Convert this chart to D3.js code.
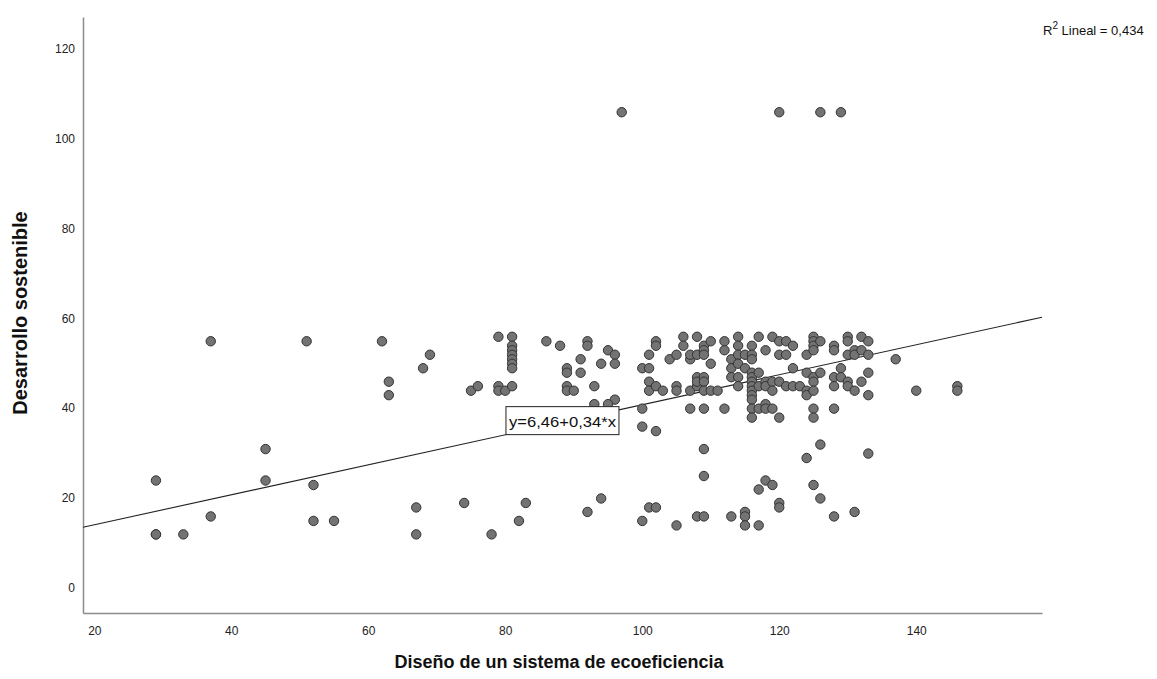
<!DOCTYPE html>
<html>
<head>
<meta charset="utf-8">
<style>
body { margin: 0; background: #fff; }
text { font-family: "Liberation Sans", Arial, sans-serif; }
.axis .domain { stroke: #8c8c8c; stroke-width: 1.5; }
.axis text { font-size: 12px; fill: #222; }
</style>
</head>
<body>
<svg id="chart" width="1157" height="679"></svg>
<script src="https://d3js.org/d3.v7.min.js"></script>
<script>

// ecoefficiency design score (x) vs sustainable development (y)
var xVals = [29,29,33,29,37,37,45,45,51,52,52,55,62,63,63,67,67,68,69,74,75,76,79,81,81,81,81,81,81,81,79,79,80,81,78,82,83,
  86,88,89,89,91,91,89,89,90,92,92,93,94,95,96,96,96,93,95,92,94,97,
  100,100,100,100,101,101,101,101,101,102,102,102,102,102,103,104,105,105,105,105,106,106,107,107,107,107,
  108,108,108,108,108,108,109,109,109,109,109,109,109,109,109,109,110,110,110,111,112,112,112,113,113,113,113,
  114,114,114,114,114,114,115,115,115,115,115,116,116,116,116,116,116,116,116,116,116,116,116,
  117,117,117,117,117,117,118,118,118,118,118,118,119,119,119,119,119,120,120,120,120,120,120,120,
  121,121,121,122,122,122,123,124,124,124,124,124,125,125,125,125,125,125,125,125,125,125,
  126,126,126,126,126,128,128,128,128,128,128,129,129,129,130,130,130,130,130,131,131,131,131,
  132,132,132,133,133,133,133,133,137,140,146,146];
var yVals = [11,11,11,23,15,54,30,23,54,22,14,14,54,45,42,17,11,48,51,18,43,44,55,55,53,52,51,50,49,48,44,43,43,44,11,14,18,
  54,53,48,47,50,47,44,43,43,54,53,44,49,52,51,49,41,40,40,16,19,105,
  48,39,35,14,51,48,45,43,17,54,53,44,34,17,43,50,51,44,43,13,55,53,50,51,43,39,
  55,51,44,46,45,15,53,52,51,46,45,43,39,30,24,15,54,49,43,43,54,52,39,50,48,46,15,
  55,53,51,49,46,44,51,48,16,15,13,53,51,50,47,46,45,44,43,42,41,39,37,
  55,47,44,39,13,21,52,45,44,40,39,23,55,45,43,39,22,54,51,45,37,18,17,105,
  54,51,44,53,48,44,44,51,47,43,42,28,55,54,53,52,46,45,43,39,37,22,
  54,47,31,19,105,53,52,46,44,39,15,48,46,105,55,54,51,45,44,52,51,43,16,
  55,52,45,54,51,47,42,29,50,43,44,43];

var xTicks = [20, 40, 60, 80, 100, 120, 140];
var yTicks = [0, 20, 40, 60, 80, 100, 120];
var fitA = 6.46, fitB = 0.334;
var fitLabel = "y=6,46+0,34*x";
var r2Label = "Lineal = 0,434";

var data = xVals.map(function(d, i) { return {x: d, y: yVals[i]}; });

var svg = d3.select("#chart");

var x = d3.scaleLinear().domain([18.35, 158.36]).range([83, 1042]);
var y = d3.scaleLinear().domain([-6.5, 126.2]).range([613, 17]);

svg.append("g")
    .attr("class", "axis")
    .attr("transform", "translate(0,613)")
    .call(d3.axisBottom(x).tickValues(xTicks).tickSize(0).tickPadding(13))
    .selectAll("text").attr("dy", "0.71em");

svg.append("g")
    .attr("class", "axis")
    .attr("transform", "translate(83,0)")
    .call(d3.axisLeft(y).tickValues(yTicks).tickSize(0).tickPadding(8))
    .selectAll("text").attr("y", 4);

// fit line
svg.append("line")
    .attr("x1", x(x.domain()[0])).attr("y1", y(fitA + fitB * x.domain()[0]))
    .attr("x2", x(x.domain()[1])).attr("y2", y(fitA + fitB * x.domain()[1]))
    .attr("stroke", "#222")
    .attr("stroke-width", 1.1);

svg.append("g")
  .selectAll("circle")
    .data(data)
    .enter()
    .append("circle")
    .attr("cx", function(d) { return x(d.x); })
    .attr("cy", function(d) { return y(d.y); })
    .attr("r", 4.7)
    .attr("fill", "#737373")
    .attr("stroke", "#333")
    .attr("stroke-width", 1);

// equation box, lower left corner sitting on the line
var bx = x(80.1), by = y(fitA + fitB * 80.1);
var box = svg.append("g").attr("transform", "translate(" + bx + "," + (by - 28) + ")");
box.append("rect")
    .attr("width", 113).attr("height", 28)
    .attr("fill", "#fff").attr("stroke", "#222").attr("stroke-width", 1);
box.append("text")
    .attr("x", 3).attr("y", 20)
    .attr("font-size", "15px")
    .attr("textLength", 107)
    .attr("lengthAdjust", "spacingAndGlyphs")
    .attr("fill", "#111")
    .text(fitLabel);

var r2 = svg.append("text")
    .attr("x", 1043).attr("y", 35)
    .attr("font-size", "13px")
    .attr("fill", "#111");
r2.append("tspan").text("R");
r2.append("tspan").attr("font-size", "10px").attr("dy", "-6").text("2");
r2.append("tspan").attr("dy", "6").text(" " + r2Label);

svg.append("text")
    .attr("transform", "translate(27,313) rotate(-90)")
    .attr("text-anchor", "middle")
    .attr("font-size", "20px")
    .attr("font-weight", "bold")
    .attr("fill", "#111")
    .text("Desarrollo sostenible");

svg.append("text")
    .attr("x", 559).attr("y", 668)
    .attr("text-anchor", "middle")
    .attr("font-size", "18px")
    .attr("font-weight", "bold")
    .attr("fill", "#111")
    .text("Diseño de un sistema de ecoeficiencia");

</script>
</body>
</html>
